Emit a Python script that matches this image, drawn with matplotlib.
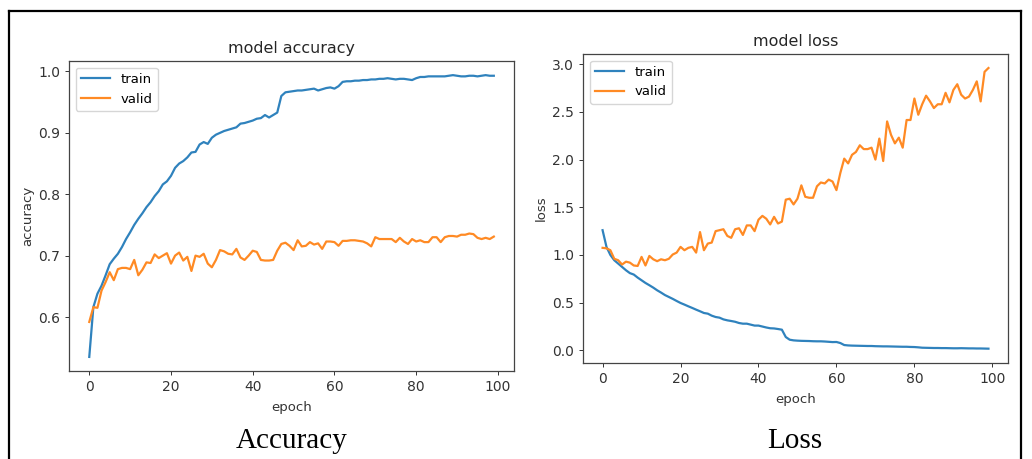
import matplotlib
import matplotlib.pyplot as plt
from matplotlib.lines import Line2D

matplotlib.use('Agg')

# Training history (100 epochs)
epochs = list(range(100))

train_acc = [
    0.535, 0.616, 0.638, 0.651, 0.668, 0.686, 0.695, 0.703, 0.714, 0.727,
    0.738, 0.750, 0.760, 0.769, 0.779, 0.787, 0.797, 0.805, 0.816, 0.821,
    0.830, 0.843, 0.850, 0.854, 0.860, 0.868, 0.869, 0.881, 0.885, 0.882,
    0.892, 0.897, 0.900, 0.903, 0.905, 0.907, 0.909, 0.915, 0.916, 0.918,
    0.920, 0.923, 0.924, 0.929, 0.925, 0.929, 0.933, 0.960, 0.966, 0.967,
    0.968, 0.969, 0.969, 0.970, 0.971, 0.972, 0.969, 0.971, 0.973, 0.974,
    0.972, 0.976, 0.983, 0.984, 0.984, 0.985, 0.985, 0.986, 0.986, 0.987,
    0.987, 0.988, 0.988, 0.989, 0.988, 0.987, 0.988, 0.988, 0.987, 0.986,
    0.989, 0.991, 0.991, 0.992, 0.992, 0.992, 0.992, 0.992, 0.993, 0.994,
    0.993, 0.992, 0.992, 0.993, 0.993, 0.992, 0.993, 0.994, 0.993, 0.993,
]

valid_acc = [
    0.592, 0.616, 0.615, 0.643, 0.657, 0.673, 0.660, 0.678, 0.680, 0.680,
    0.678, 0.693, 0.668, 0.677, 0.689, 0.688, 0.702, 0.696, 0.700, 0.704,
    0.687, 0.700, 0.705, 0.692, 0.698, 0.675, 0.700, 0.698, 0.703, 0.687,
    0.681, 0.693, 0.709, 0.707, 0.703, 0.702, 0.711, 0.697, 0.693, 0.700,
    0.708, 0.706, 0.693, 0.692, 0.692, 0.693, 0.708, 0.719, 0.721, 0.716,
    0.709, 0.725, 0.715, 0.716, 0.722, 0.718, 0.720, 0.711, 0.723, 0.723,
    0.722, 0.716, 0.724, 0.724, 0.725, 0.725, 0.724, 0.723, 0.720, 0.715,
    0.730, 0.727, 0.727, 0.727, 0.727, 0.722, 0.729, 0.723, 0.719, 0.727,
    0.723, 0.725, 0.722, 0.722, 0.730, 0.730, 0.722, 0.730, 0.732, 0.732,
    0.731, 0.734, 0.734, 0.736, 0.735, 0.729, 0.727, 0.729, 0.727, 0.731,
]

train_loss = [
    1.26, 1.085, 1.00, 0.945, 0.91, 0.875, 0.84, 0.81, 0.795, 0.763,
    0.735, 0.707, 0.683, 0.658, 0.630, 0.606, 0.580, 0.560, 0.540, 0.518,
    0.497, 0.480, 0.462, 0.445, 0.427, 0.410, 0.392, 0.385, 0.364, 0.350,
    0.343, 0.325, 0.315, 0.308, 0.300, 0.287, 0.280, 0.280, 0.270, 0.260,
    0.260, 0.250, 0.240, 0.232, 0.230, 0.224, 0.217, 0.140, 0.112, 0.105,
    0.102, 0.100, 0.099, 0.098, 0.096, 0.095, 0.095, 0.093, 0.090, 0.087,
    0.088, 0.077, 0.056, 0.052, 0.050, 0.049, 0.048, 0.047, 0.046, 0.046,
    0.044, 0.043, 0.042, 0.042, 0.041, 0.040, 0.039, 0.038, 0.038, 0.036,
    0.035, 0.032, 0.028, 0.027, 0.026, 0.025, 0.025, 0.024, 0.024, 0.023,
    0.022, 0.022, 0.023, 0.022, 0.021, 0.021, 0.020, 0.020, 0.019, 0.018,
]

valid_loss = [
    1.075, 1.07, 1.05, 0.96, 0.945, 0.90, 0.93, 0.92, 0.89, 0.885,
    0.98, 0.89, 0.99, 0.955, 0.935, 0.955, 0.945, 0.96, 1.005, 1.025,
    1.085, 1.05, 1.075, 1.085, 1.025, 1.24, 1.05, 1.12, 1.13, 1.25,
    1.26, 1.27, 1.20, 1.18, 1.27, 1.28, 1.21, 1.31, 1.31, 1.25,
    1.37, 1.41, 1.38, 1.32, 1.40, 1.33, 1.35, 1.58, 1.59, 1.53,
    1.59, 1.73, 1.61, 1.60, 1.60, 1.72, 1.76, 1.75, 1.79, 1.77,
    1.68, 1.86, 2.01, 1.96, 2.05, 2.08, 2.15, 2.11, 2.11, 2.125,
    2.00, 2.22, 1.985, 2.40, 2.26, 2.17, 2.23, 2.125, 2.415, 2.415,
    2.64, 2.47, 2.58, 2.67, 2.61, 2.54, 2.58, 2.58, 2.70, 2.60,
    2.73, 2.79, 2.68, 2.64, 2.66, 2.73, 2.82, 2.61, 2.92, 2.96,
]

panels = [
    ('model accuracy', 'accuracy', train_acc, valid_acc, 'Accuracy'),
    ('model loss', 'loss', train_loss, valid_loss, 'Loss'),
]

# Axes boxes in figure fractions (left, bottom, width, height)
boxes = [
    [0.0669, 0.1917, 0.4312, 0.6753],
    [0.5652, 0.2098, 0.4113, 0.6726],
]
caption_x = [0.283, 0.770]


def draw_panel(fig, box, title, ylabel, train, valid):
    ax = fig.add_axes(box)
    ax.plot(epochs, train, color='#2f82bd', lw=1.6, label='train')
    ax.plot(epochs, valid, color='#ff8a24', lw=1.6, label='valid')
    ax.set_title(title, fontsize=11.4, color='#262626', pad=6)
    ax.set_xlabel('epoch', fontsize=9.5, color='#333333', labelpad=5)
    ax.set_ylabel(ylabel, fontsize=9.5, color='#333333', labelpad=3)
    ax.set_xticks([0, 20, 40, 60, 80, 100])
    ax.tick_params(labelsize=10, length=3, width=0.7, colors='#333333')
    for spine in ax.spines.values():
        spine.set_linewidth(0.9)
        spine.set_color('#444444')
    ax.legend(loc='upper left', fontsize=9.5, handlelength=2.2)
    return ax


def main():
    fig = plt.figure(figsize=(10.32, 4.59), dpi=100)

    for (title, ylabel, train, valid, caption), box, cx in zip(panels, boxes, caption_x):
        draw_panel(fig, box, title, ylabel, train, valid)
        fig.text(cx, 0.024, caption, family='Liberation Serif', fontsize=21,
                 ha='center', va='baseline')

    # Black frame around the two pictures (open at the bottom)
    top = 1 - 11 / 459
    left = 9 / 1032
    right = 1021 / 1032
    for xs, ys in [([left, right], [top, top]),
                   ([left, left], [0, top]),
                   ([right, right], [0, top])]:
        fig.add_artist(Line2D(xs, ys, color='black', lw=1.6,
                              transform=fig.transFigure))

    fig.savefig('out.png', dpi=100)


if __name__ == "__main__":
    main()
